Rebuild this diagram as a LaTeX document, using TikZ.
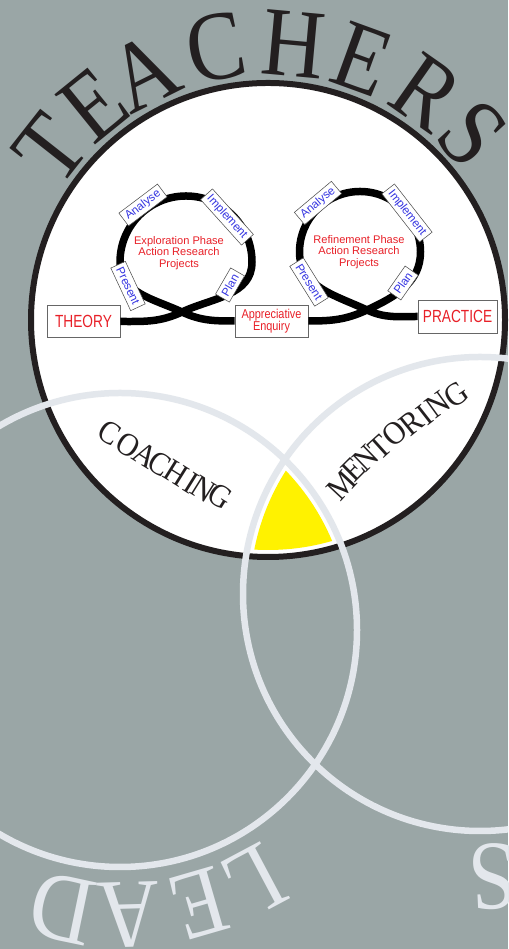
\documentclass[tikz,border=0pt]{standalone}
\usepackage{fontspec}
\setmainfont{Liberation Serif}
\setsansfont{Liberation Sans}
\usepackage{graphicx}
\definecolor{backgrey}{RGB}{154,166,166}
\definecolor{ringgrey}{RGB}{227,231,236}
\definecolor{inkblack}{RGB}{35,31,32}
\definecolor{phasered}{RGB}{232,32,40}
\definecolor{tagblue}{RGB}{52,52,225}
\tikzstyle{ringline} = [ringgrey, line width=0.13cm]
\tikzstyle{loopline} = [black, line width=0.15cm]
\tikzstyle{bigletter} = [font=\fontsize{56}{60}\selectfont, inner sep=0pt]
\tikzstyle{smallletter} = [font=\fontsize{18.5}{20}\selectfont, inner sep=0pt, text=inkblack]
\tikzstyle{endbox} = [rectangle, draw=black!60, line width=0.4pt, fill=white, text=phasered, font=\sffamily\fontsize{10}{11}\selectfont, minimum width=1.46cm, minimum height=0.63cm, align=center, inner sep=1pt]
\tikzstyle{tagbox} = [rectangle, draw=black!70, line width=0.3pt, fill=white, text=tagblue, font=\sffamily\fontsize{6.6}{7}\selectfont, inner xsep=2pt, inner ysep=1pt, minimum height=0.32cm]
\tikzstyle{tagout} = [tagbox, path picture={\draw[densely dotted, black!60, line width=0.3pt] ([yshift=0.8pt]path picture bounding box.south west) -- ([yshift=0.8pt]path picture bounding box.south east);}]
\tikzstyle{tagin} = [tagbox, path picture={\draw[densely dotted, black!60, line width=0.3pt] ([yshift=-0.8pt]path picture bounding box.north west) -- ([yshift=-0.8pt]path picture bounding box.north east);}]
\tikzstyle{phase} = [text=phasered, font=\sffamily\fontsize{6.3}{6.7}\selectfont, align=center]

\begin{document}
\begin{tikzpicture}[x=0.02cm, y=0.02cm]
    \useasboundingbox (0,0) rectangle (508,949);
    \clip (0,0) rectangle (508,949);
    \fill[backgrey] (0,0) rectangle (508,949);

    \coordinate (tc) at (268,629);
    \coordinate (lc) at (120,319);
    \coordinate (rc) at (480,355);

    % circles
    \fill[white] (tc) circle (237);
    \begin{scope}
        \clip (tc) circle (230);
        \clip (lc) circle (230);
        \clip (rc) circle (230);
        \fill[yellow] (0,0) rectangle (508,949);
    \end{scope}
    \draw[inkblack, line width=0.12cm] (tc) circle (237);
    \draw[ringline] (lc) circle (237);
    \draw[ringline] (rc) circle (237);

    % words round the circles
    \foreach \ch/\ang [count=\i] in {T/141.8, E/129, A/116.5, C/100.8, H/84.8, E/70, R/55, S/42.4}
        \node (teach\i) [bigletter, text=inkblack, rotate=\ang-90] at ([shift={(\ang:277)}]tc) {\scalebox{0.88}[1]{\ch}};
    \foreach \ch/\ang [count=\i] in {L/-62, E/-73.8, A/-88.4, D/-101.7}
        \node (lead\i) [bigletter, text=ringgrey, rotate=\ang-90] at ([shift={(\ang:285)}]lc) {\scalebox{0.88}[1]{\ch}};
    \node (tail) [bigletter, text=ringgrey, rotate=-177.4] at ([shift={(-87.4:283)}]rc) {\scalebox{0.88}[1]{S}};

    \foreach \ch/\x/\y [count=\i] in {C/110/516, O/128/504, A/145/494, C/160/485, H/176/476, I/191/466, N/203/460, G/220/453}
        \node (coach\i) [smallletter, rotate=-32] at (\x,\y) {\scalebox{0.92}[1]{\ch}};
    \foreach \ch/\x/\y/\rot [count=\i] in {M/342/463/47, E/353/479/45, N/366/491/44, T/380/502/42, O/395/516/41, R/412/526/39, I/425/534/38, N/438/544/36, G/456/554/35}
        \node (mentor\i) [smallletter, rotate=\rot] at (\x,\y) {\scalebox{0.92}[1]{\ch}};

    % action research loops
    \node (theory) [endbox] at (83.5,627.5) {\scalebox{0.78}[1]{THEORY}};
    \node (enquiry) [endbox, minimum height=0.64cm, font=\sffamily\fontsize{7.3}{7}\selectfont] at (271.5,628) {\scalebox{0.85}[1]{Appreciative}\\\scalebox{0.85}[1]{Enquiry}};
    \node (practice) [endbox, minimum width=1.58cm, minimum height=0.66cm] at (457.5,632.5) {\scalebox{0.78}[1]{PRACTICE}};
    \coordinate (crossL) at (182,637);
    \coordinate (crossR) at (367,639);

    \draw[loopline] (theory.east) to[out=0,in=205] (crossL) to[out=25,in=-90] (252,687)
        arc[start angle=0, end angle=180, radius=66] to[out=-90,in=155] (crossL) to[out=-25,in=180] (enquiry.west);
    \draw[loopline] (enquiry.east) to[out=0,in=205] (crossR) to[out=25,in=-90] (420.5,697)
        arc[start angle=0, end angle=180, radius=60.5] to[out=-90,in=155] (crossR) to[out=-25,in=180] (practice.west);

    \node (anaL) [tagout, rotate=37] at (143,744) {Analyse};
    \node (impL) [tagout, rotate=-48] at (227,732) {Implement};
    \node (preL) [tagin, rotate=-65] at (128,663) {Present};
    \node (plaL) [tagin, rotate=60] at (230,664) {Plan};
    \node (phaseL) [phase] at (179,696) {Exploration Phase\\Action Research\\Projects};

    \node (anaR) [tagout, rotate=40] at (318,746) {Analyse};
    \node (impR) [tagout, rotate=-52] at (407,736) {Implement};
    \node (preR) [tagin, rotate=-58] at (309,667) {Present};
    \node (plaR) [tagin, rotate=55] at (403,666) {Plan};
    \node (phaseR) [phase] at (359,697) {Refinement Phase\\Action Research\\Projects};
\end{tikzpicture}
\end{document}
